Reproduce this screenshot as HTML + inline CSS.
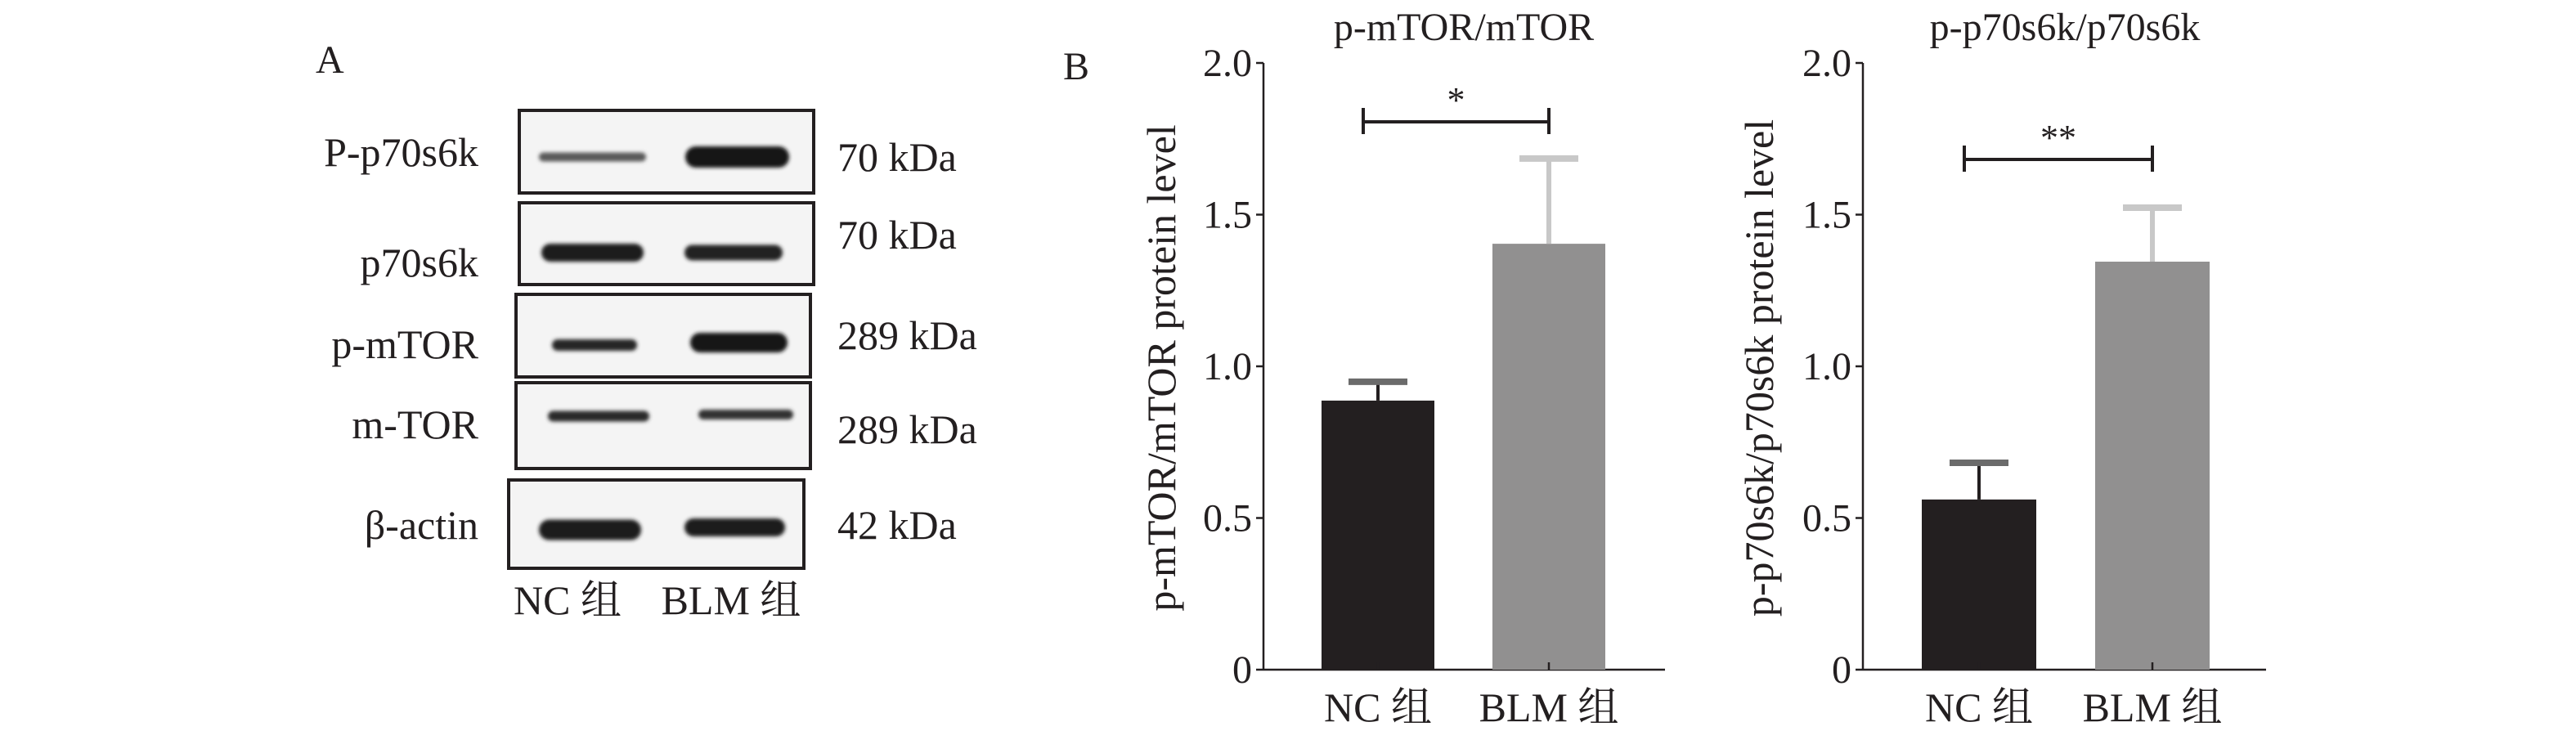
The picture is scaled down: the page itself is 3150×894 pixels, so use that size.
<!DOCTYPE html>
<html><head><meta charset="utf-8"><style>
html,body{margin:0;padding:0;background:#fff;}
svg{display:block;}
text{font-family:"Liberation Serif","Noto Serif CJK SC","Noto Sans CJK SC",serif;fill:#231f20;}
</style></head><body>
<svg id="fig" width="3150" height="894" viewBox="0 0 3150 894" xmlns="http://www.w3.org/2000/svg">
<defs><filter id="blur" x="-20%" y="-100%" width="140%" height="300%"><feGaussianBlur stdDeviation="2.5"/></filter></defs>
<g id="panelA">
<text x="386" y="89" font-size="48">A</text>
</g>
<g id="panelB">
<text x="1300" y="97" font-size="48">B</text>
</g>
</svg>
<script>
// ---- blot data ----
const blotLabels = ["P-p70s6k","p70s6k","p-mTOR","m-TOR","β-actin"];
const blotSizes = ["70 kDa","70 kDa","289 kDa","289 kDa","42 kDa"];
const blotBoxes = [[635,135,360,101],[635,248,360,100],[631,360,360,101],[631,468,360,105],[622,587,361,108]];
const bandNC = [[659,790,192,11,"#5a5a5a"],[662,787,309,22,"#1e1e1e"],[675,779,422,14,"#262626"],[670,794,509,13,"#2a2a2a"],[659,784,648,25,"#1a1a1a"]];
const bandBLM = [[838,965,192,26,"#151515"],[837,957,309,19,"#222"],[844,963,419,24,"#161616"],[854,970,507,12,"#333"],[837,960,645,22,"#1a1a1a"]];
const labelBase = [203,338,438,536,659];
const sizeBase = [209,304,427,542,659];

// ---- chart data ----
const groups = ["NC 组","BLM 组"];
const chart1Values = [0.887,1.404];
const chart1Errors = [0.062,0.281];
const chart2Values = [0.561,1.345];
const chart2Errors = [0.121,0.178];
const yTicks = [0,0.5,1.0,1.5,2.0];
const yTickLabels = ["0","0.5","1.0","1.5","2.0"];
const chartTitles = ["p-mTOR/mTOR","p-p70s6k/p70s6k"];
const yTitles = ["p-mTOR/mTOR protein level","p-p70s6k/p70s6k protein level"];
const sigMarks = ["*","**"];

const NS="http://www.w3.org/2000/svg";
function mk(tag,attrs,parent,txt){const e=document.createElementNS(NS,tag);for(const k in attrs)e.setAttribute(k,attrs[k]);if(txt!==undefined)e.textContent=txt;parent.appendChild(e);return e;}
const A=document.getElementById('panelA');
const B=document.getElementById('panelB');

blotBoxes.forEach((b,i)=>{
  const r=mk('rect',{x:b[0],y:b[1],width:b[2],height:b[3],fill:"#f4f4f4",stroke:"#231f20","stroke-width":4},A);
  
  
  [bandNC[i],bandBLM[i]].forEach((d,j)=>{
    const e=mk('rect',{x:d[0],y:d[2]-d[3]/2,width:d[1]-d[0],height:d[3],rx:d[3]/2,fill:d[4],filter:"url(#blur)"},A);
    
    
  });
  const t=mk('text',{x:585,y:labelBase[i],"font-size":50,"text-anchor":"end"},A,blotLabels[i]);
  
  
  const s=mk('text',{x:1024,y:sizeBase[i],"font-size":50},A,blotSizes[i]);
  
  
});
[[694,751],[894,751]].forEach((p,i)=>{
  const t=mk('text',{x:p[0],y:p[1],"font-size":50,"text-anchor":"middle"},A,groups[i]);
  
  
});

function drawChart(ci,values,errors,cfg){
  const g=mk('g',{},B);
  
  
  const y0=819,y1=77;
  const yS=v=>y0-(v/2.0)*(y0-y1);
  const ax=cfg.ax;
  const yl=mk('line',{x1:ax,y1:y1,x2:ax,y2:y0,stroke:"#231f20","stroke-width":2.5},g);
  
  
  const xl=mk('line',{x1:ax,y1:y0,x2:cfg.axEnd,y2:y0,stroke:"#231f20","stroke-width":2.5},g);
  
  
  yTicks.forEach((v,i)=>{
    const tk=mk('line',{x1:ax-9,y1:yS(v),x2:ax,y2:yS(v),stroke:"#231f20","stroke-width":2.5},g);
    
    
    const tl=mk('text',{x:ax-14,y:yS(v)+16,"font-size":48,"text-anchor":"end"},g,yTickLabels[i]);
    
    
  });
  const colors=["#231f20","#919090"],errC=["#231f20","#c8c8c8"],capC=["#6b6b6b","#c8c8c8"];
  values.forEach((v,i)=>{
    const cx=cfg.centers[i],w=cfg.barW;
    const bar=mk('rect',{x:cx-w/2,y:yS(v),width:w,height:y0-yS(v),fill:colors[i]},g);
    
    
    const el=mk('line',{x1:cx,y1:yS(v),x2:cx,y2:yS(v+errors[i]),stroke:errC[i],"stroke-width":i?6:4},g);
    
    
    const cp=mk('line',{x1:cx-36,y1:yS(v+errors[i]),x2:cx+36,y2:yS(v+errors[i]),stroke:capC[i],"stroke-width":8},g);
    
    
    const xt=mk('line',{x1:cx,y1:y0-9,x2:cx,y2:y0,stroke:"#231f20","stroke-width":2.5},g);
    
    
    const xtl=mk('text',{x:cx,y:882,"font-size":50,"text-anchor":"middle"},g,groups[i]);
    
    
  });
  const by=cfg.bracketY,bx1=cfg.centers[0]-18,bx2=cfg.centers[1];
  const br=mk('path',{d:`M${bx1},${by-17}V${by+15}M${bx1},${by}H${bx2}M${bx2},${by-17}V${by+15}`,stroke:"#231f20","stroke-width":4,fill:"none"},g);
  
  
  const st=mk('text',{x:(bx1+bx2)/2,y:by-12,"font-size":44,"text-anchor":"middle"},g,sigMarks[ci]);
  
  
  const tt=mk('text',{x:cfg.titleX,y:49,"font-size":48,"text-anchor":"middle"},g,chartTitles[ci]);
  
  
  const yt=mk('text',{x:0,y:0,"font-size":50,"text-anchor":"middle",transform:`translate(${cfg.yTitleX},450) rotate(-90)`},g,yTitles[ci]);
  
  
}
drawChart(0,chart1Values,chart1Errors,{ax:1545,axEnd:2036,centers:[1685,1894],barW:138,bracketY:149,titleX:1790,yTitleX:1437});
drawChart(1,chart2Values,chart2Errors,{ax:2278,axEnd:2771,centers:[2420,2632],barW:140,bracketY:195,titleX:2525,yTitleX:2168});
</script>
</body></html>
